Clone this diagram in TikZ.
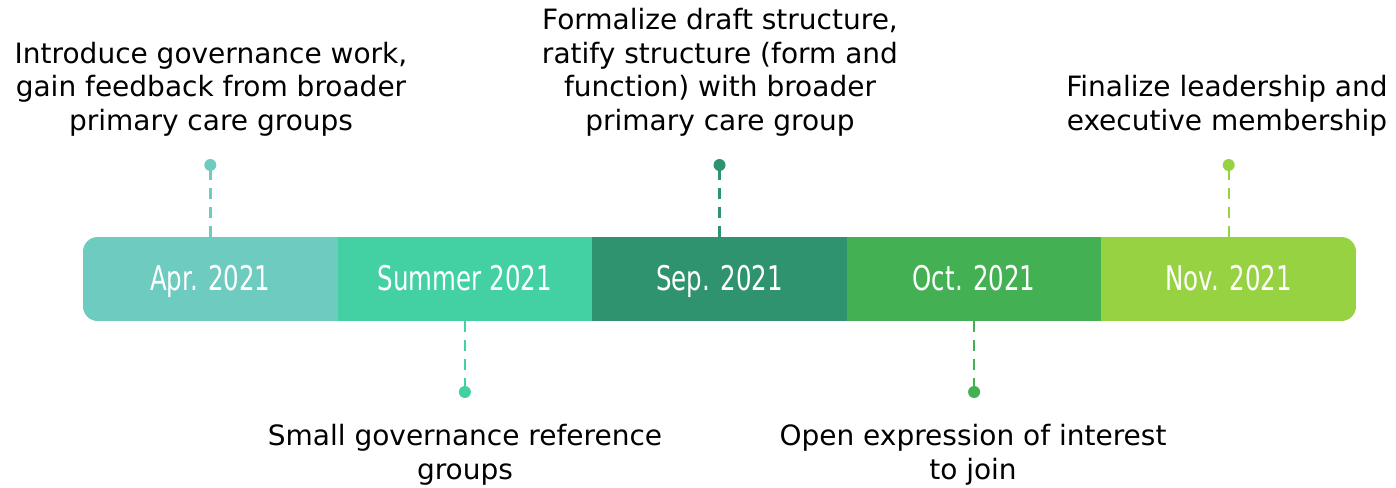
\documentclass[tikz,border=0pt]{standalone}
\usepackage{fontspec}
\setmainfont{DejaVu Sans}
\newfontfamily\barfont{DejaVu Sans}[FakeStretch=0.72]
\definecolor{cA}{RGB}{110,203,191}
\definecolor{cB}{RGB}{67,208,163}
\definecolor{cC}{RGB}{46,147,110}
\definecolor{cD}{RGB}{68,176,84}
\definecolor{cE}{RGB}{151,210,66}
\begin{document}
\begin{tikzpicture}[x=0.75pt,y=-0.75pt,
  seg/.style={draw=none,inner sep=0,minimum width=254.6*0.75pt,minimum height=84*0.75pt,
    text height=18.75pt,text depth=2.25pt,
    font=\barfont\fontsize{25.5pt}{30pt}\selectfont,text=white},
  dot/.style={circle,inner sep=0,minimum size=12*0.75pt,fill=#1},
  stem/.style={draw=#1,line width=1.8pt,dash pattern=on 8.25pt off 6pt},
  caption/.style={align=center,inner sep=0,font=\fontsize{21pt}{25.1pt}\selectfont,anchor=base}]
\useasboundingbox (0,0) rectangle (1396,487);

% timeline bar with rounded outer corners
\begin{scope}
  \clip[rounded corners=11pt] (83,237) rectangle (1356,321);
  \node[seg,fill=cA] (s1) at (210.3,279) {Apr. 2021};
  \node[seg,fill=cB] (s2) at (464.9,279) {Summer 2021};
  \node[seg,fill=cC] (s3) at (719.5,279) {Sep. 2021};
  \node[seg,fill=cD] (s4) at (974.1,279) {Oct. 2021};
  \node[seg,fill=cE] (s5) at (1228.7,279) {Nov. 2021};
\end{scope}

% milestone markers
\node[dot=cA] (d1) at (210.3,165) {};
\node[dot=cB] (d2) at (464.9,392) {};
\node[dot=cC] (d3) at (719.5,165) {};
\node[dot=cD] (d4) at (974.1,392) {};
\node[dot=cE] (d5) at (1228.7,165) {};

% dashed stems, drawn outward from the bar
\draw[stem=cA] (s1.north) -- (d1);
\draw[stem=cB] (s2.south) -- (d2);
\draw[stem=cC] (s3.north) -- (d3);
\draw[stem=cD] (s4.south) -- (d4);
\draw[stem=cE] (s5.north) -- (d5);

% milestone descriptions (anchored at the baseline of their last line)
\node[caption] (t1) at (211,130) {Introduce governance work,\\gain feedback from broader\\primary care groups};
\node[caption] (t3) at (720,130) {Formalize draft structure,\\ratify structure (form and\\function) with broader\\primary care group};
\node[caption] (t5) at (1227,130) {Finalize leadership and\\executive membership};
\node[caption] (t2) at (465,479) {Small governance reference\\groups};
\node[caption] (t4) at (973,479) {Open expression of interest\\to join};
\end{tikzpicture}
\end{document}
